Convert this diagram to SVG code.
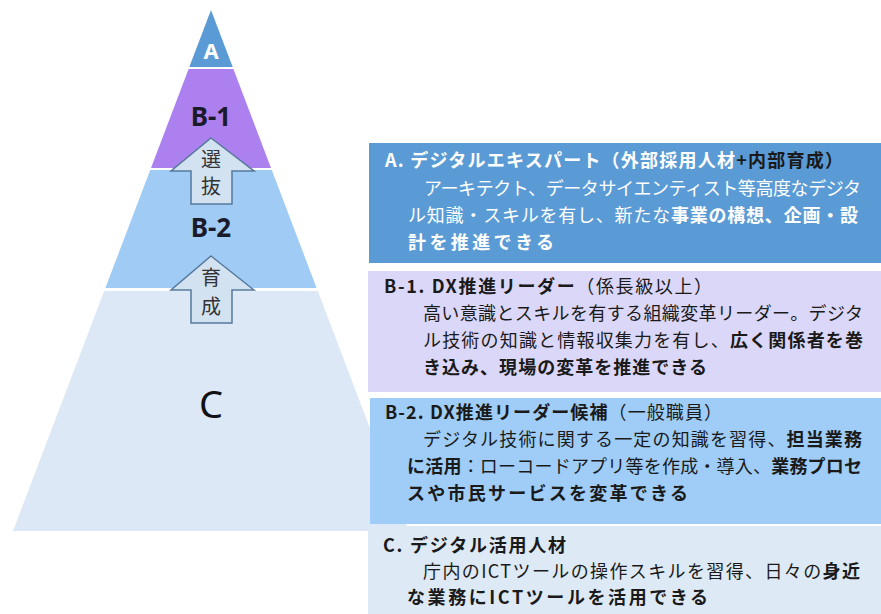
<svg xmlns="http://www.w3.org/2000/svg" width="881" height="614" viewBox="0 0 881 614">
<style>
.t{font-family:"Noto Sans CJK JP","Noto Sans",sans-serif;font-size:18px;}
.b{font-weight:bold;}
.w{fill:#ffffff;}
.k{fill:#1a1a1a;}
.lvl{font-family:"Noto Sans","Noto Sans CJK JP",sans-serif;text-anchor:middle;}
.arr{fill:#d3e2f1;stroke:#56799c;stroke-width:1.5;}
.al{font-family:"Noto Sans CJK JP",sans-serif;font-size:20px;fill:#333333;text-anchor:middle;}
</style>
<rect width="881" height="614" fill="#ffffff"/>
<g id="pyramid">
  <g id="level-C">
    <polygon points="104.2,291 317.8,291 409,531 13,531" fill="#dce8f5"/>
    <text class="lvl" x="211" y="418" font-size="38" fill="#111111">C</text>
  </g>
  <g id="level-B2">
    <polygon points="150.2,170 271.8,170 316.6,288 105.4,288" fill="#9fcbf5"/>
    <text class="lvl" x="211" y="237" font-size="26" font-weight="bold" fill="#1a1a2a">B-2</text>
  </g>
  <g id="level-B1">
    <polygon points="188.6,69 233.4,69 271,168 151,168" fill="#ad80f0"/>
    <text class="lvl" x="211" y="126" font-size="26" font-weight="bold" fill="#1a1a2a">B-1</text>
  </g>
  <g id="level-A">
    <polygon points="211,10 232.7,67 189.3,67" fill="#5b9bd5"/>
    <text class="lvl" x="211" y="59" font-size="22" font-weight="bold" fill="#ffffff">A</text>
  </g>
</g>
<g id="connectors">
  <g id="arrow-senbatsu">
    <polygon class="arr" points="211,138 254,171 232,171 232,204 191,204 191,171 171,171"/>
    <text class="al" x="211" y="167"><tspan x="211" y="167">選</tspan><tspan x="211" y="194">抜</tspan></text>
  </g>
  <g id="arrow-ikusei">
    <polygon class="arr" points="211,256 254,290 232,290 232,323 191,323 191,290 171,290"/>
    <text class="al" x="211" y="285"><tspan x="211" y="285">育</tspan><tspan x="211" y="314">成</tspan></text>
  </g>
</g>
<g id="box-A">
  <rect x="369" y="143" width="512" height="120" fill="#5b9bd5"/>
  <text class="t b" x="385" y="167" textLength="458" lengthAdjust="spacing"><tspan class="w">A. デジタルエキスパート（外部採用人材</tspan><tspan class="k">+内部育成）</tspan></text>
  <text class="t w" x="424" y="195" textLength="437" lengthAdjust="spacing">アーキテクト、データサイエンティスト等高度なデジタ</text>
  <text class="t w" x="408" y="222" textLength="450" lengthAdjust="spacing">ル知識・スキルを有し、新たな<tspan class="b">事業の構想、企画・設</tspan></text>
  <text class="t w b" x="408" y="249" textLength="146" lengthAdjust="spacing">計を推進できる</text>
</g>
<g id="box-B1">
  <rect x="368" y="271" width="513" height="121" fill="#dbd7f8"/>
  <text class="t k" x="384" y="293" textLength="328" lengthAdjust="spacing"><tspan class="b">B-1. DX推進リーダー</tspan>（係長級以上）</text>
  <text class="t k" x="423" y="320" textLength="440" lengthAdjust="spacing">高い意識とスキルを有する組織変革リーダー。デジタ</text>
  <text class="t k" x="423" y="347" textLength="440" lengthAdjust="spacing">ル技術の知識と情報収集力を有し、<tspan class="b">広く関係者を巻</tspan></text>
  <text class="t k b" x="423" y="374" textLength="284" lengthAdjust="spacing">き込み、現場の変革を推進できる</text>
</g>
<g id="box-B2">
  <rect x="370" y="398" width="511" height="126" fill="#9fcdf7"/>
  <text class="t k" x="385" y="419" textLength="337" lengthAdjust="spacing"><tspan class="b">B-2. DX推進リーダー候補</tspan>（一般職員）</text>
  <text class="t k" x="423" y="446" textLength="439" lengthAdjust="spacing">デジタル技術に関する一定の知識を習得、<tspan class="b">担当業務</tspan></text>
  <text class="t k" x="407" y="473" textLength="455" lengthAdjust="spacing"><tspan class="b">に活用</tspan>：ローコードアプリ等を作成・導入、<tspan class="b">業務プロセ</tspan></text>
  <text class="t k b" x="407" y="500" textLength="281" lengthAdjust="spacing">スや市民サービスを変革できる</text>
</g>
<g id="box-C">
  <rect x="368" y="526" width="513" height="88" fill="#dde9f5"/>
  <text class="t k b" x="383" y="552" textLength="183" lengthAdjust="spacing">C. デジタル活用人材</text>
  <text class="t k" x="423" y="578" textLength="437" lengthAdjust="spacing">庁内のICTツールの操作スキルを習得、日々の<tspan class="b">身近</tspan></text>
  <text class="t k b" x="407" y="604" textLength="301" lengthAdjust="spacing">な業務にICTツールを活用できる</text>
</g>
</svg>
